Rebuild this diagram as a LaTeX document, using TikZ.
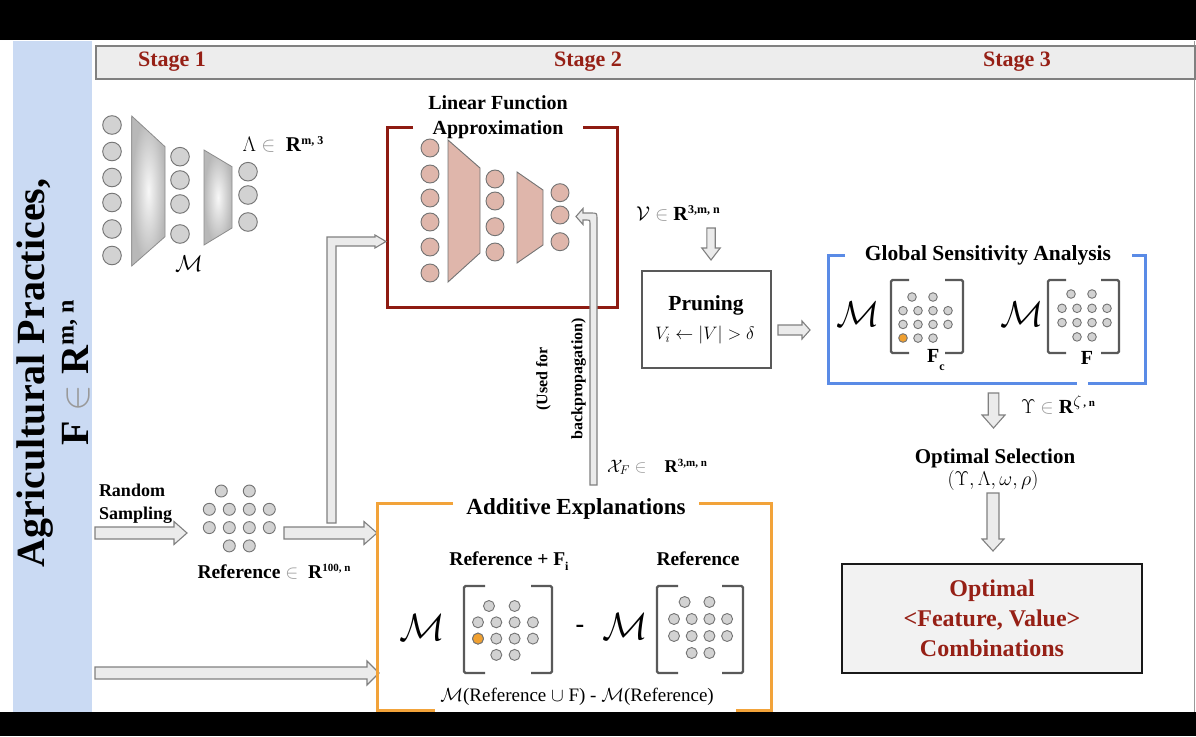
\RequirePackage{fix-cm}
\documentclass[tikz,border=0pt]{standalone}
\usepackage{fontspec}
\setmainfont{Liberation Serif}
\usetikzlibrary{calc}
\definecolor{stagered}{HTML}{962016}
\definecolor{lfared}{HTML}{8E1B12}
\definecolor{aeorange}{HTML}{F2A33A}
\definecolor{gsablue}{HTML}{5A8BE6}
\definecolor{stripblue}{HTML}{CADAF3}
\definecolor{hdrgray}{HTML}{EDEDED}
\definecolor{arrowfill}{HTML}{EBEBEB}
\definecolor{dotgray}{HTML}{D2D2D2}
\definecolor{pinkfill}{HTML}{DFB6AB}
\definecolor{orangedot}{HTML}{F0A030}
\newcommand{\fsz}[2]{\fontsize{#1}{#2}\selectfont}
\newcommand{\gin}{{\color{black!40}$\in$}}
\newcommand{\dotgrid}[6]{\foreach \gcol/\grow in {0.6/0,2/0,0/1,1/1,2/1,3/1,0/2,1/2,2/2,3/2,1/3,2/3}{\draw[#6] ({#1+\gcol*#3},{#2+\grow*#4}) circle[radius=#5];}}
\newcommand{\harrow}[6]{\draw[blk] (#1,#3-#4) -- (#2-#6,#3-#4) -- (#2-#6,#3-#5) -- (#2,#3) -- (#2-#6,#3+#5) -- (#2-#6,#3+#4) -- (#1,#3+#4) -- cycle;}
\newcommand{\varrow}[6]{\draw[blk] (#1-#4,#2) -- (#1-#4,#3-#6) -- (#1-#5,#3-#6) -- (#1,#3) -- (#1+#5,#3-#6) -- (#1+#4,#3-#6) -- (#1+#4,#2) -- cycle;}
\newcommand{\lbrk}[4]{\draw[brk] (#1+#4,#2) -- (#1,#2) -- (#1,#3) -- (#1+#4,#3);}
\newcommand{\rbrk}[4]{\draw[brk] (#1-#4,#2) -- (#1,#2) -- (#1,#3) -- (#1-#4,#3);}
\begin{document}
\begin{tikzpicture}[x=1pt,y=-1pt,
  blk/.style={draw=black!50, fill=arrowfill, line width=1.1pt, line join=miter},
  gcirc/.style={draw=black!55, fill=dotgray, line width=0.9pt},
  pcirc/.style={draw=black!55, fill=pinkfill, line width=0.9pt},
  odotst/.style={draw=black!55, fill=orangedot, line width=0.9pt},
  brk/.style={draw=black!65, line width=2.4pt, rounded corners=1.5pt},
  txt/.style={inner sep=0pt, outer sep=0pt},
  stg/.style={txt, font=\bfseries\fsz{22}{26}, text=stagered},
  ttl/.style={txt, font=\bfseries\fsz{20}{25}, align=center},
  boxline/.style={line width=3pt, line cap=butt, line join=miter},
  trap/.style={draw=black!45, line width=0.8pt, inner color=black!3, outer color=black!28},
]
\useasboundingbox (0,0) rectangle (1196,736);
\fill[white] (0,0) rectangle (1196,736);
\fill[black] (0,0) rectangle (1196,40);
\fill[black] (0,712) rectangle (1196,736);
\fill[stripblue] (13,41) rectangle (92,712);
\draw[black!40, line width=1pt] (1194.5,41) -- (1194.5,712);

% header
\node[draw=black!50, fill=hdrgray, line width=1.5pt, minimum width=1099pt, minimum height=33pt, inner sep=0pt, anchor=north west] (header) at (95,45) {};
\node[stg] (s1) at (172,62) {Stage 1};
\node[stg] (s2) at (588,62) {Stage 2};
\node[stg] (s3) at (1017,62) {Stage 3};

% vertical title
\node[txt, rotate=90, align=center, font=\bfseries\fsz{40}{44}] (agri) at (53,373) {Agricultural Practices,\\F \gin\ R\textsuperscript{\fsz{24}{24}m, n}};

% Stage 1 network
\shadedraw[trap] (131.7,116) -- (165,146.7) -- (165,236.7) -- (131.7,266) -- cycle;
\shadedraw[trap] (204,150) -- (232,166.7) -- (232,228) -- (204,245) -- cycle;
\foreach \yy in {125,151.5,177.5,202.5,229,255.5} \draw[gcirc] (112,\yy) circle[radius=9.3];
\foreach \yy in {156.7,180,204,234} \draw[gcirc] (180,\yy) circle[radius=9.3];
\foreach \yy in {171.7,195,222} \draw[gcirc] (248,\yy) circle[radius=9.3];
\node[txt, font=\fsz{21}{24}] (lam) at (283,144) {$\Lambda$ \gin\ \ \textbf{R}\raisebox{7pt}{\fsz{12}{12}\bfseries m, 3}};
\node[txt, font=\fsz{23}{24}] (m1) at (189,264) {$\mathcal{M}$};

% Linear function approximation
\draw[lfared, boxline] (413,127) -- (387,127) -- (387,307) -- (617,307) -- (617,127) -- (583,127);
\node[ttl] (lfa) at (498,117) {Linear Function\\Approximation};
\filldraw[draw=black!55, fill=pinkfill, line width=0.9pt] (448,140) -- (480,168) -- (480,253) -- (448,282) -- cycle;
\filldraw[draw=black!55, fill=pinkfill, line width=0.9pt] (517,172) -- (543,190) -- (543,245) -- (517,263) -- cycle;
\foreach \yy in {148,174,198,222,247,273} \draw[pcirc] (430,\yy) circle[radius=9];
\foreach \yy in {179,201,226.7,252} \draw[pcirc] (495,\yy) circle[radius=9];
\foreach \yy in {192.7,215,241.7} \draw[pcirc] (560,\yy) circle[radius=9];

% backpropagation arrow
\draw[blk] (590,485) -- (590,223) .. controls (590,220) .. (587,220) -- (583,220) -- (583,224.5) -- (576,216.5) -- (583,208.5) -- (583,213) -- (591,213) .. controls (597,213) .. (597,219) -- (597,485) -- cycle;
\node[txt, rotate=90, align=center, font=\bfseries\fsz{16}{35}] (bp) at (561,379) {(Used for\\backpropagation)};
\node[txt, font=\fsz{18}{22}] (xf) at (657,467) {$\mathcal{X}_F$ \gin\quad\textbf{R}\raisebox{6pt}{\fsz{11}{11}\bfseries 3,m, n}};

% V label and pruning
\node[txt, font=\fsz{20}{24}] (vl) at (678,213) {$\mathcal{V}$ {\color{black!40}$\in$} \textbf{R}\raisebox{7pt}{\fsz{12}{12}\bfseries 3,m, n}};
\varrow{711}{228}{260}{4.2}{9.2}{12}
\node[draw=black!65, line width=2.2pt, minimum width=129pt, minimum height=97pt, inner sep=0pt] (prune) at (706.5,319.5) {};
\node[txt, font=\bfseries\fsz{21.5}{24}] (prt) at (706,305) {Pruning};
\node[txt, font=\fsz{18}{22}] (prf) at (705,335) {$V_i \leftarrow |V| > \delta$};
\harrow{778}{810}{330}{5}{9}{8}

% Global sensitivity analysis
\draw[gsablue, boxline] (845,255) -- (828,255) -- (828,383) -- (1077,383);
\draw[gsablue, boxline] (1088,383) -- (1145,383) -- (1145,255) -- (1132,255);
\node[ttl, font=\bfseries\fsz{21.5}{25}] (gsa) at (988,255) {Global Sensitivity Analysis};
\node[txt, font=\fsz{36}{38}] (gm1) at (858,314) {$\mathcal{M}$};
\lbrk{891}{280}{353}{18}
\rbrk{963}{280}{353}{18}
\dotgrid{903}{297}{15}{13.7}{4.3}{gcirc}
\draw[odotst] (903,338) circle[radius=4.3];
\node[txt, font=\bfseries\fsz{20}{22}] (fc) at (936,360) {F\raisebox{-8pt}{\fsz{12}{12}\bfseries c}};
\node[txt, font=\fsz{36}{38}] (gm2) at (1022,314) {$\mathcal{M}$};
\lbrk{1048}{280}{353}{18}
\rbrk{1119}{280}{353}{18}
\dotgrid{1062}{294}{15}{14.3}{4.3}{gcirc}
\node[txt, font=\bfseries\fsz{20}{22}] (ff) at (1087,358) {F};
\node[txt, font=\fsz{20}{24}] (ups) at (1058,405) {$\Upsilon$ {\color{black!40}$\in$} \textbf{R}\raisebox{7pt}{\fsz{16}{16}$\zeta$\fsz{11}{11}\bfseries\,, n}};
\varrow{993.5}{393}{428}{5.3}{11.5}{13}

% optimal selection
\node[txt, font=\bfseries\fsz{21}{24}] (os) at (995,458) {Optimal Selection};
\node[txt, font=\fsz{20}{24}] (ost) at (993,480) {$(\Upsilon, \Lambda, \omega, \rho)$};
\varrow{993}{493}{551}{6}{11}{12}
\node[draw=black!90, fill=black!5, line width=2pt, minimum width=300pt, minimum height=109pt, align=center, font=\bfseries\fsz{24}{30}, text=stagered] (opt) at (992,618.5) {Optimal\\<Feature, Value>\\Combinations};

% Stage 1 reference sampling
\node[txt, align=left, font=\bfseries\fsz{18}{23}, anchor=west] (rs) at (99,503.5) {Random\\Sampling};
\harrow{95}{187}{533}{6}{11.5}{13}
\dotgrid{209.3}{491}{20}{18.3}{6}{gcirc}
\node[txt, font=\fsz{19.5}{24}] (refl) at (274,572) {\textbf{Reference} \gin\ \ \textbf{R}\raisebox{7pt}{\fsz{11}{11}\bfseries 100, n}};
\harrow{284}{377}{533}{6}{11.5}{13}
\draw[blk] (327,523) -- (327,237) -- (375,237) -- (375,235) -- (386,241.5) -- (375,248) -- (375,246) -- (336,246) -- (336,523) -- cycle;
\harrow{95}{379}{673}{6}{12}{12}

% Additive explanations
\draw[aeorange, boxline] (453,503) -- (377,503) -- (377,710) -- (435,710);
\draw[aeorange, boxline] (736,710) -- (771,710) -- (771,503) -- (699,503);
\node[txt, font=\bfseries\fsz{23}{26}] (aet) at (576,509) {Additive Explanations};
\node[txt, font=\bfseries\fsz{19.5}{24}] (rfi) at (509,561) {Reference + F\raisebox{-5pt}{\fsz{12}{12}\bfseries i}};
\node[txt, font=\bfseries\fsz{19.5}{24}] (rfo) at (698,559) {Reference};
\node[txt, font=\fsz{38}{40}] (am1) at (422,628) {$\mathcal{M}$};
\lbrk{464}{586}{673}{21}
\rbrk{552}{586}{673}{21}
\dotgrid{478}{606}{18.3}{16.3}{5.5}{gcirc}
\draw[odotst] (478,638.6) circle[radius=5.5];
\node[txt, font=\bfseries\fsz{26}{28}] (minus) at (580,629) {-};
\node[txt, font=\fsz{38}{40}] (am2) at (625,627) {$\mathcal{M}$};
\lbrk{657}{586}{673}{21}
\rbrk{743}{586}{673}{21}
\dotgrid{674}{602}{17.7}{17}{5.5}{gcirc}
\node[txt, font=\fsz{19}{22}] (aef) at (577,697) {$\mathcal{M}$(Reference $\cup$ F) - $\mathcal{M}$(Reference)};
\end{tikzpicture}
\end{document}
